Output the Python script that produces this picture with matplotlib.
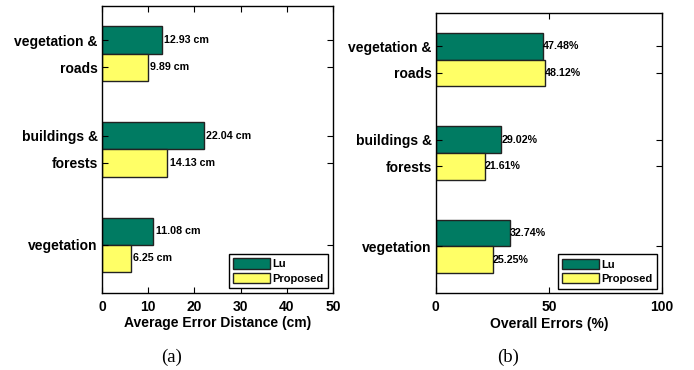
import numpy as np
import matplotlib
matplotlib.use('Agg')
import matplotlib.pyplot as plt

plt.rcParams['font.family'] = ['Liberation Sans', 'DejaVu Sans']

groups = ['vegetation & roads', 'buildings & forests', 'vegetation']
tick_labels = ['vegetation &', 'roads', 'buildings &', 'forests', 'vegetation']
lu_dist = [12.93, 22.04, 11.08]
prop_dist = [9.89, 14.13, 6.25]
lu_err = [47.48, 29.02, 32.74]
prop_err = [48.12, 21.61, 25.25]

green = '#007B62'
yellow = '#FFFF66'
h = 0.285
ypos = np.array([3, 2, 1])
tick_pos = [3 + h/2, 3 - h/2, 2 + h/2, 2 - h/2, 1]


def panel(ax, lu, prop, xmax, xticks, xlabel, fmt, off):
    ax.barh(ypos + h/2, lu, height=h, color=green, edgecolor='#222222', linewidth=1.0, label='Lu')
    ax.barh(ypos - h/2, prop, height=h, color=yellow, edgecolor='#222222', linewidth=1.0, label='Proposed')
    for y, v in zip(ypos, lu):
        ax.text(v + off, y + h/2, fmt.format(v), va='center', ha='left', fontsize=7.7, weight='bold')
    for y, v in zip(ypos, prop):
        ax.text(v + off, y - h/2, fmt.format(v), va='center', ha='left', fontsize=7.7, weight='bold')
    ax.set_xlim(0, xmax)
    ax.set_ylim(0.5, 3.5)
    ax.set_xticks(xticks)
    ax.set_yticks(tick_pos)
    ax.set_yticklabels(tick_labels)
    ax.tick_params(direction='in', top=True, right=True, length=4, width=0.8)
    ax.tick_params(axis='y', labelsize=10, pad=3)
    ax.tick_params(axis='x', labelsize=10, pad=5)
    for lbl in ax.get_yticklabels() + ax.get_xticklabels():
        lbl.set_fontweight('bold')
    ax.set_xlabel(xlabel, fontsize=10, weight='bold', labelpad=2)
    for s in ax.spines.values():
        s.set_linewidth(1.0)
    leg = ax.legend(loc='lower right', bbox_to_anchor=(0.978, 0.016), borderaxespad=0,
                    fancybox=False, framealpha=1, edgecolor='black',
                    prop={'size': 8, 'weight': 'bold'},
                    handlelength=3.3, handleheight=1.05, handletextpad=0.2,
                    labelspacing=0.3, borderpad=0.4)
    leg.get_frame().set_linewidth(1.0)


fig = plt.figure(figsize=(6.94, 3.70), dpi=100)
ax1 = fig.add_axes([0.147, 0.209, 0.333, 0.775])
ax2 = fig.add_axes([0.628, 0.208, 0.3256, 0.757])

panel(ax1, lu_dist, prop_dist, 50, [0, 10, 20, 30, 40, 50], 'Average Error Distance (cm)', '{:.2f} cm', 0.5)
panel(ax2, lu_err, prop_err, 100, [0, 50, 100], 'Overall Errors (%)', '{:.2f}%', 0.0)

fig.text(172 / 694, 1 - 357 / 370, '(a)', family='Liberation Serif', fontsize=13.5, ha='center', va='center')
fig.text(508 / 694, 1 - 357 / 370, '(b)', family='Liberation Serif', fontsize=13.5, ha='center', va='center')

fig.savefig('out.png', dpi=100)
